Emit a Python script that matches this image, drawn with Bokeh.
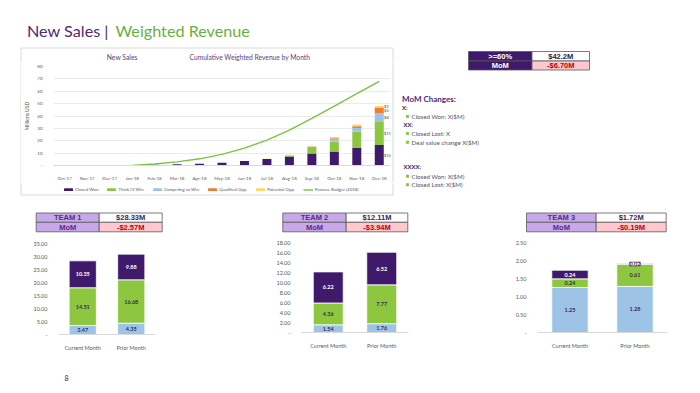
import numpy as np
from bokeh.plotting import figure
from bokeh.models import (Range1d, FactorRange, ColumnDataSource, LabelSet, Legend, LegendItem,
                          FixedTicker)
from bokeh.layouts import column, row
from bokeh.embed import file_html
from bokeh.resources import INLINE
from bokeh.core.properties import value

# ---------------- data ----------------
title_parts = ["New Sales |", "Weighted Revenue"]
chart_titles = ["New Sales", "Cumulative Weighted Revenue by Month"]
months = ["Oct-17", "Nov-17", "Dec-17", "Jan-18", "Feb-18", "Mar-18", "Apr-18", "May-18",
          "Jun-18", "Jul-18", "Aug-18", "Sep-18", "Oct-18", "Nov-18", "Dec-18"]
series_names = ["Closed Won", "Think I'll Win", "Competing to Win", "Qualified Opp.", "Potential Opp."]
closed_won = [0, 0, 0, 0, 0.6, 1.1, 1.4, 2.3, 3.6, 5.2, 7.2, 9.7, 11.4, 14.1, 16.5]
think_win = [0, 0, 0, 0, 0, 0, 0, 0, 0, 0, 0.8, 5.3, 7.8, 13.2, 19.3]
competing = [0, 0, 0, 0, 0, 0, 0, 0, 0, 0, 0, 0.3, 1.8, 3.1, 6.4]
qualified = [0, 0, 0, 0, 0, 0, 0, 0, 0, 0, 0, 0, 1.1, 1.3, 4.6]
potential = [0, 0, 0, 0, 0, 0, 0, 0, 0, 0.3, 0.6, 0.6, 0.9, 1.5, 1.2]
budget_name = "Finance Budget (2018)"
finance_budget = [np.nan, np.nan, np.nan, 0.0, 1.2, 2.9, 5.4, 9.0, 14.0, 20.5, 28.5, 38.0, 48.0, 58.0, 68.0]
dec_labels = ["$16", "$19", "$6", "$5", "$1"]
main_y_ticks = [0, 10, 20, 30, 40, 50, 60, 70, 80]
main_y_title = "Millions USD"

summary_labels = [">=60%", "MoM"]
summary_values = ["$42.2M", "-$6.70M"]

mom_title = "MoM Changes:"
mom_heads = ["X:", "XX:", "XXXX:"]
mom_bullets = ["Closed Won: X($M)", "Closed Lost: X", "Deal value change X($M)",
               "Closed Won: X($M)", "Closed Lost: X($M)"]

team_names = ["TEAM 1", "TEAM 2", "TEAM 3"]
team_totals = ["$28.33M", "$12.11M", "$1.72M"]
team_mom = ["-$2.57M", "-$3.94M", "-$0.19M"]
periods = ["Current Month", "Prior Month"]
team_competing = [[3.47, 4.35], [1.54, 1.76], [1.25, 1.28]]
team_think = [[14.51, 16.68], [4.36, 7.77], [0.24, 0.61]]
team_won = [[10.35, 9.88], [6.22, 6.52], [0.24, 0.02]]
team_y_ticks = [[0, 5, 10, 15, 20, 25, 30, 35], [0, 2, 4, 6, 8, 10, 12, 14, 16, 18],
                [0, 0.5, 1.0, 1.5, 2.0, 2.5]]
page_number = "8"

# ---------------- style ----------------
DARK = "#3F1A6B"
GREEN = "#8DC63F"
BLUE = "#9DC3E6"
ORANGE = "#ED7D31"
YELLOW = "#FFD966"
BUDGET = "#7CC242"
PURPLE_T = "#4E2A74"
GREEN_T = "#6AAF3D"
GRAY = "#595959"
BOX = "#D9D9D9"
LAV = "#C7A8E8"
PINK = "#FFC7CE"
RED = "#C00000"
FONT = "Lato"
TFONT = "Liberation Sans"
BAR_COLORS = [DARK, GREEN, BLUE, ORANGE, YELLOW]


def blank(x0, y0, width, height):
    p = figure(width=width, height=height, x_range=Range1d(x0, x0 + width),
               y_range=Range1d(y0 + height, y0), x_axis_type=None, y_axis_type=None,
               output_backend="svg", toolbar_location=None, min_border=0,
               outline_line_color=None, frame_align=False)
    p.grid.visible = False
    return p


BX0, BX1, BY0, BY1 = 20.5, 392.5, 47.5, 194.5

# ---------------- header ----------------
H = blank(0, 0, 700, 44)
H.text(x=[26.5], y=[30], text=[title_parts[0]], text_font=value(FONT), text_font_size="16.2px",
       text_color=PURPLE_T, text_baseline="alphabetic")
H.text(x=[115], y=[30], text=[title_parts[1]], text_font=value(FONT), text_font_size="16.2px",
       text_color=GREEN_T, text_baseline="alphabetic")

# ---------------- chart box: top strip ----------------
A = blank(0, 44, 395, 18)
A.segment(x0=[BX0, BX0, BX1], y0=[BY0, BY0, BY0], x1=[BX1, BX0, BX1], y1=[BY0, 62, 62],
          line_color=BOX, line_width=1)
A.text(x=[121.7], y=[56], text=[chart_titles[0]], text_align="center", text_baseline="middle",
       text_font=value(FONT), text_font_size="6.8px", text_color="#5B4180")
A.text(x=[189], y=[56], text=[chart_titles[1]], text_align="left", text_baseline="middle",
       text_font=value(FONT), text_font_size="6.7px", text_color="#5B4180")

L = blank(0, 62, 21, 121)
L.segment(x0=[BX0], y0=[62], x1=[BX0], y1=[183], line_color=BOX, line_width=1)
R = blank(391, 62, 4, 121)
R.segment(x0=[BX1], y0=[62], x1=[BX1], y1=[183], line_color=BOX, line_width=1)

# ---------------- main chart ----------------
src = ColumnDataSource(dict(month=months, won=closed_won, think=think_win, comp=competing,
                            qual=qualified, pot=potential, budget=np.array(finance_budget)))
F1 = figure(width=370, height=121, x_range=FactorRange(*months), y_range=Range1d(0, 80),
            output_backend="svg", toolbar_location=None, min_border_left=24, min_border_right=1,
            min_border_top=4, min_border_bottom=13, outline_line_color=None, frame_align=False)
bars = F1.vbar_stack(["won", "think", "comp", "qual", "pot"], x="month", width=0.4,
                     color=BAR_COLORS, line_color=None, source=src)
bline = F1.line(x="month", y="budget", source=src, line_color=BUDGET, line_width=1.4)

ya = F1.yaxis[0]
ya.ticker = FixedTicker(ticks=main_y_ticks)
ya.major_label_overrides = {0: "-"}
ya.axis_line_color = None
ya.major_tick_line_color = None
ya.minor_tick_line_color = None
ya.major_label_text_font = FONT
ya.major_label_text_font_size = "4.5px"
ya.major_label_text_color = GRAY
ya.major_label_standoff = 5
ya.axis_label = main_y_title
ya.axis_label_text_font = FONT
ya.axis_label_text_font_size = "5px"
ya.axis_label_text_font_style = "normal"
ya.axis_label_text_color = GRAY
ya.axis_label_standoff = 4
xa = F1.xaxis[0]
xa.axis_line_color = BOX
xa.major_tick_line_color = None
xa.minor_tick_line_color = None
xa.major_label_text_font = FONT
xa.major_label_text_font_size = "4.5px"
xa.major_label_text_color = GRAY
xa.major_label_standoff = 4
F1.xgrid.visible = False
F1.ygrid.grid_line_color = "#E3E3E3"
F1.ygrid.grid_line_width = 0.7

di = months.index("Dec-18")
dec_vals = [closed_won[di], think_win[di], competing[di], qualified[di], potential[di]]
dec_centers = list(np.cumsum(dec_vals) - np.array(dec_vals) / 2)
F1.add_layout(LabelSet(source=ColumnDataSource(dict(x=[months[di]] * 5, y=dec_centers, t=dec_labels)),
                       x="x", y="y", text="t", x_offset=4.8, text_align="left", text_baseline="middle",
                       text_font=value(FONT), text_font_size="4.2px", text_color="#404040",
                       background_fill_color="white"))

# ---------------- chart box: bottom strip with legend ----------------
B = blank(0, 183, 395, 17)
B.segment(x0=[BX0, BX0, BX1], y0=[BY1, 183, 183], x1=[BX1, BX0, BX1], y1=[BY1, BY1, BY1],
          line_color=BOX, line_width=1)
leg_r = [B.vbar(x=[np.nan], top=[np.nan], width=1, color=c) for c in BAR_COLORS]
leg_l = B.line(x=[np.nan], y=[np.nan], line_color=BUDGET, line_width=1.4)
items = [LegendItem(label=n, renderers=[r]) for n, r in zip(series_names, leg_r)]
items.append(LegendItem(label=budget_name, renderers=[leg_l]))
B.add_layout(Legend(items=items, orientation="horizontal", location=(63, 8.5), padding=0, margin=0,
                    spacing=8, glyph_width=10, glyph_height=3, label_standoff=2, label_height=5,
                    label_width=5, label_text_font=FONT, label_text_font_size="4.4px",
                    label_text_color=GRAY, background_fill_alpha=0, border_line_color=None),
             "center")

left_block = column(A, row(L, F1, R), B)

# ---------------- right panel ----------------
F2 = blank(395, 44, 305, 156)
tx0, tx1, tx2 = 468, 531.5, 589
ty0, ty1, ty2 = 51, 60.5, 69.5
F2.quad(left=[tx0, tx1, tx0, tx1], right=[tx1, tx2, tx1, tx2], top=[ty0, ty0, ty1, ty1],
        bottom=[ty1, ty1, ty2, ty2], fill_color=[DARK, "white", DARK, PINK],
        line_color="#595959", line_width=0.8)
F2.text(x=[(tx0 + tx1) / 2] * 2 + [(tx1 + tx2) / 2] * 2,
        y=[(ty0 + ty1) / 2, (ty1 + ty2) / 2] * 2,
        text=summary_labels + summary_values,
        text_color=["white", "white", "#2B1B3F", RED], text_align="center",
        text_baseline="middle", text_font=value(TFONT), text_font_style="bold",
        text_font_size="7.5px")
F2.text(x=[401.5], y=[98], text=[mom_title], text_font=value(FONT), text_font_style="bold",
        text_font_size="8px", text_color=PURPLE_T, text_baseline="middle")
F2.text(x=[401.5, 403, 403], y=[106.7, 124, 165.7], text=mom_heads, text_font=value(FONT),
        text_font_style="bold", text_font_size="6px", text_color="#3B2A5A", text_baseline="middle")
by = [116, 133, 141.7, 175.7, 184.3]
F2.scatter(x=[407] * len(by), y=by, marker="square", size=2.2, color=GREEN)
F2.text(x=[411] * len(by), y=by, text=mom_bullets, text_font=value(FONT), text_font_size="6.2px",
        text_color="#5A4E6B", text_baseline="middle")

# ---------------- team panels ----------------
col_x = [0, 240, 470]
col_w = [240, 230, 230]
tab_x = [(35.7, 98.7, 161.7), (282.3, 345.7, 407.3), (526, 595.7, 665.7)]
tab_y = (212.5, 221.8, 231.3)
chart_borders = [(58, 85, 7, 28), (61, 62, 6, 30), (67, 33, 6, 30)]

cols = []
for i in range(3):
    T = blank(col_x[i], 200, col_w[i], 36)
    a, b, c = tab_x[i]
    y0, y1, y2 = tab_y
    T.quad(left=[a, b, a, b], right=[b, c, b, c], top=[y0, y0, y1, y1], bottom=[y1, y1, y2, y2],
           fill_color=[LAV, "white", LAV, PINK], line_color="#595959", line_width=0.8)
    T.text(x=[(a + b) / 2] * 2 + [(b + c) / 2] * 2, y=[(y0 + y1) / 2, (y1 + y2) / 2] * 2,
           text=[team_names[i], "MoM", team_totals[i], team_mom[i]],
           text_color=["#5B2A86", "#5B2A86", "#3D2260", RED], text_align="center",
           text_baseline="middle", text_font=value(TFONT), text_font_style="bold",
           text_font_size="7.5px")

    bl, br, bt, bb = chart_borders[i]
    ticks = team_y_ticks[i]
    C = figure(width=col_w[i], height=126, x_range=FactorRange(*periods),
               y_range=Range1d(0, ticks[-1]), output_backend="svg", toolbar_location=None,
               min_border_left=bl, min_border_right=br, min_border_top=bt, min_border_bottom=bb,
               outline_line_color=None, frame_align=False)
    tsrc = ColumnDataSource(dict(period=periods, comp=team_competing[i], think=team_think[i],
                                 won=team_won[i]))
    C.vbar_stack(["comp", "think", "won"], x="period", width=0.56, color=[BLUE, GREEN, DARK],
                 line_color="white", line_width=0.8, source=tsrc)
    C.grid.visible = False
    cy = C.yaxis[0]
    cy.ticker = FixedTicker(ticks=ticks)
    cy.major_label_overrides = {t: ("-" if t == 0 else f"{t:.2f}") for t in ticks}
    cy.axis_line_color = None
    cy.major_tick_line_color = None
    cy.minor_tick_line_color = None
    cy.major_label_text_font = FONT
    cy.major_label_text_font_size = "5.5px"
    cy.major_label_text_color = GRAY
    cy.major_label_standoff = 5
    cx = C.xaxis[0]
    cx.axis_line_color = BOX
    cx.major_tick_line_color = None
    cx.minor_tick_line_color = None
    cx.major_label_text_font = FONT
    cx.major_label_text_font_size = "5.5px"
    cx.major_label_text_color = GRAY
    cx.major_label_standoff = 4

    lx, ly, lt, lc = [], [], [], []
    sx, sy, st = [], [], []
    for j, per in enumerate(periods):
        segs = [team_competing[i][j], team_think[i][j], team_won[i][j]]
        base = 0.0
        for k, v in enumerate(segs):
            if v < 0.1:
                sx.append(per); sy.append(base + v / 2); st.append(f"{v:.2f}")
            else:
                lx.append(per); ly.append(base + v / 2); lt.append(f"{v:.2f}")
                lc.append("white" if k == 2 else "#3A2A55")
            base += v
    C.add_layout(LabelSet(source=ColumnDataSource(dict(x=lx, y=ly, t=lt, c=lc)), x="x", y="y",
                          text="t", text_color="c", text_align="center", text_baseline="middle",
                          text_font=value(FONT), text_font_style="bold", text_font_size="5.5px"))
    if sx:
        C.add_layout(LabelSet(source=ColumnDataSource(dict(x=sx, y=sy, t=st)), x="x", y="y",
                              text="t", text_color="#3A2A55", text_align="center",
                              text_baseline="middle", text_font=value(FONT),
                              text_font_style="bold", text_font_size="5.5px",
                              background_fill_color="white", border_line_color="#7F7F7F"))
    cols.append(column(T, C))

Fo = blank(0, 362, 700, 31)
Fo.text(x=[66], y=[377], text=[page_number], text_align="center", text_baseline="middle",
        text_font=value(FONT), text_font_size="7px", text_color="#262626")

layout = column(H, row(left_block, F2), row(*cols), Fo)
open("out.html", "w").write(file_html(layout, INLINE))
